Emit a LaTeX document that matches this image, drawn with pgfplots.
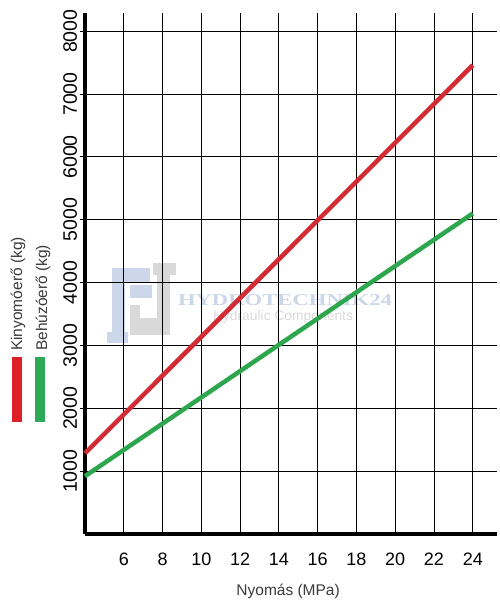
\documentclass[border=0pt]{standalone}
\usepackage{pgfplots}
\pgfplotsset{compat=1.18}
\usepackage{fontspec}
\setmainfont{Liberation Sans}
\newfontfamily\seriffont{Liberation Serif}
\definecolor{redline}{HTML}{D42A33}
\definecolor{greenline}{HTML}{2EA64E}
\definecolor{redbar}{HTML}{DD2027}
\definecolor{greenbar}{HTML}{2DAA57}
\definecolor{wmblue}{HTML}{CCD7E9}
\definecolor{wmgray}{HTML}{D9D9D9}
\definecolor{txtgray}{HTML}{3A3A3A}
\begin{document}
\begin{tikzpicture}[x=1pt,y=1pt]
\useasboundingbox (0pt,0pt) rectangle (500pt,608pt);
% watermark
\fill[wmblue] (112,270) rectangle (125,340);
\fill[wmblue] (107,265) rectangle (128,276);
\fill[wmblue] (112,326) rectangle (150,340);
\fill[wmblue] (130,310) rectangle (152,323);
\fill[wmgray] (153,333) rectangle (176,345);
\fill[wmgray] (157,273) rectangle (170,345);
\fill[wmgray] (130,273) rectangle (170,290);
\fill[wmgray] (130,273) rectangle (140,303);
\node[wmblue, inner sep=0pt] at (285,308) {\resizebox{214pt}{11pt}{\seriffont\bfseries HYDROTECHNIK24}};
\node[wmgray, inner sep=0pt] at (283,291) {\resizebox{140pt}{!}{Hydraulic Components}};
\begin{axis}[
  at={(85pt,74pt)}, anchor=south west,
  scale only axis, width=412pt, height=521pt,
  xmin=4, xmax=25.25, ymin=0, ymax=8290,
  axis x line*=bottom, axis y line*=left,
  axis line style={line width=3.5pt, black, -},
  xtick={6,8,...,24}, ytick={1000,2000,...,8000},
  grid=major, grid style={black, line width=0.9pt},
  tick align=outside, major tick length=5pt,
  tick style={black, line width=0.9pt},
  x tick style={draw=none},
  /pgf/number format/assume math mode=true,
  /pgf/number format/1000 sep={},
  xticklabel style={anchor=base, font=\fontsize{18}{18}\selectfont, text=black},
  yticklabel style={rotate=90, anchor=base, font=\fontsize{19.5}{19.5}\selectfont, text=black},
  xticklabel shift=26pt, yticklabel shift=3pt,
  xlabel={Nyomás (MPa)},
  every axis x label/.style={at={(axis description cs:0.493,0)}, anchor=base, yshift=-61pt, font=\fontsize{15.5}{15.5}\selectfont, text=txtgray},
  clip=false,
]
\addplot[redline, line width=4.5pt] coordinates {(4,1285) (24,7460)};
\addplot[greenline, line width=4.5pt] coordinates {(4,920) (24,5100)};
\end{axis}
% legend
\fill[redbar] (12,186) rectangle (22,251);
\fill[greenbar] (35,186) rectangle (45,251);
\node[rotate=90, anchor=base west, inner sep=0pt, text=txtgray, font=\fontsize{15.5}{15.5}\selectfont] at (22,257) {Kinyomóerő (kg)};
\node[rotate=90, anchor=base west, inner sep=0pt, text=txtgray, font=\fontsize{15.5}{15.5}\selectfont] at (47,257) {Behúzóerő (kg)};
\end{tikzpicture}
\end{document}
